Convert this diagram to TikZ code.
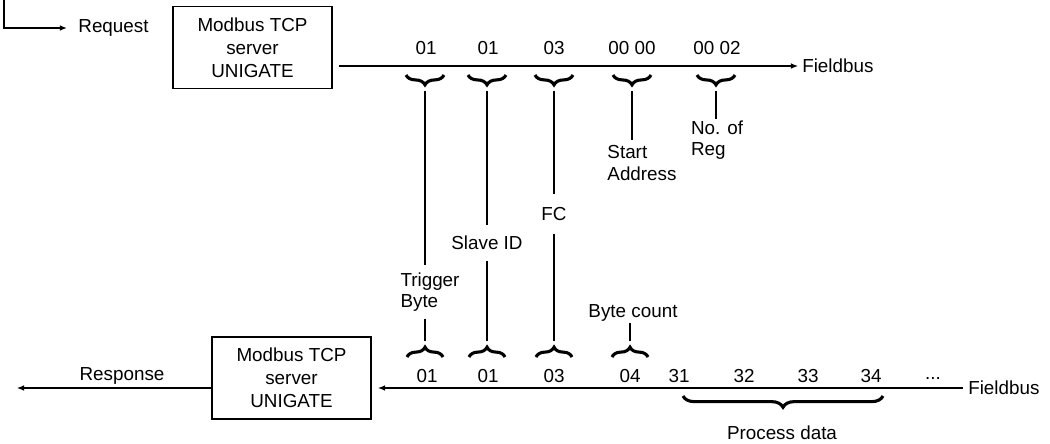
\documentclass[tikz,border=0pt]{standalone}
\usepackage{fontspec}
\setmainfont{Liberation Sans}
\usetikzlibrary{arrows.meta,positioning,calc,decorations.pathreplacing}

\begin{document}
\begin{tikzpicture}[x=0.025cm,y=-0.025cm,
    every node/.style={font=\fontsize{13.4}{15}\selectfont, inner sep=0pt},
    srvbox/.style={draw, line width=0.8pt, minimum width=3.975cm, minimum height=2.05cm,
      align=center, font=\fontsize{13.4}{16.4}\selectfont},
    bus/.style={line width=0.8pt, -{Latex[length=5pt,width=4pt]}},
    lead/.style={line width=0.9pt},
    bytebrace/.style={line width=2.2pt, decorate, decoration={brace, amplitude=7pt}},
    lbl/.style={align=left}]
  \useasboundingbox (0,0) rectangle (1050,443);

  % Request side
  \node (req) at (113.5,28) {Request};
  \coordinate (lq0) at (4,0);
  \draw[bus, shorten >=8pt] (lq0) |- (req.west);
  \node[srvbox] (srvT) at (252.5,47.5) {Modbus TCP\\server\\UNIGATE};
  \coordinate (qs) at (339,66);
  \coordinate (qe) at (798,66);
  \draw[bus] (qs) -- (qe);
  \node[anchor=west] (fbT) at (802,66) {Fieldbus};

  % Request telegram
  \foreach \cx/\v [count=\i] in {426/01, 488/01, 554/03, 632/00 00, 717/00 02}
    \node (qv\i) at (\cx,48) {\v};
  \foreach \cx/\nm in {425/tA, 487/tB, 554/tC, 632/tD, 716/tE} {
    \draw[bytebrace] (\cx+19,75) -- (\cx-19,75);
    \coordinate (\nm) at (\cx,91);
  }

  % Labels
  \node[lbl, inner ysep=5pt] (trig) at (430,292) {Trigger\\Byte};
  \node[inner ysep=8pt] (slave) at (487,243) {Slave ID};
  \node[inner ysep=9pt] (fc) at (554,214) {FC};
  \node[lbl, inner ysep=4pt] (start) at (642,163) {Start\\Address};
  \node[lbl, inner ysep=1pt] (noreg) at (717,140) {No. of\\Reg};
  \node[inner ysep=1pt] (bcnt) at (633,313) {Byte count};

  \draw[lead] (tA) -- (tA |- trig.north);
  \draw[lead] (tB) -- (tB |- slave.north);
  \draw[lead] (tC) -- (tC |- fc.north);
  \draw[lead] (tD) -- (tD |- start.north);
  \draw[lead] (tE) -- (tE |- noreg.north);

  % Response telegram
  \foreach \cx/\nm in {425/bA, 487/bB, 554/bC, 630/bD} {
    \draw[bytebrace] (\cx-18,357) -- (\cx+18,357);
    \coordinate (\nm) at (\cx,341);
  }
  \draw[lead] (trig.south -| bA) -- (bA);
  \draw[lead] (slave.south -| bB) -- (bB);
  \draw[lead] (fc.south -| bC) -- (bC);
  \draw[lead] (bcnt.south -| bD) -- (bD);

  \foreach \cx/\v [count=\i] in {427/01, 488/01, 554/03, 630/04, 679/31, 744/32, 808/33, 871/34}
    \node (rv\i) at (\cx,376) {\v};
  \node (rvdots) at (933,378) {...};

  \coordinate (rs) at (963,388);
  \coordinate (re) at (378,388);
  \draw[bus] (rs) -- (re);
  \node[anchor=west] (fbB) at (968,388) {Fieldbus};

  % Process data
  \draw[bytebrace, decoration={brace, amplitude=8pt}] (883,396) -- (683,396);
  \node (pd) at (782,433) {Process data};

  % Response side
  \node[srvbox] (srvB) at (291.5,378) {Modbus TCP\\server\\UNIGATE};
  \coordinate (rspend) at (17,388);
  \draw[bus] (srvB.west |- rspend) -- (rspend);
  \node (resp) at (122,376) {Response};
\end{tikzpicture}
\end{document}
